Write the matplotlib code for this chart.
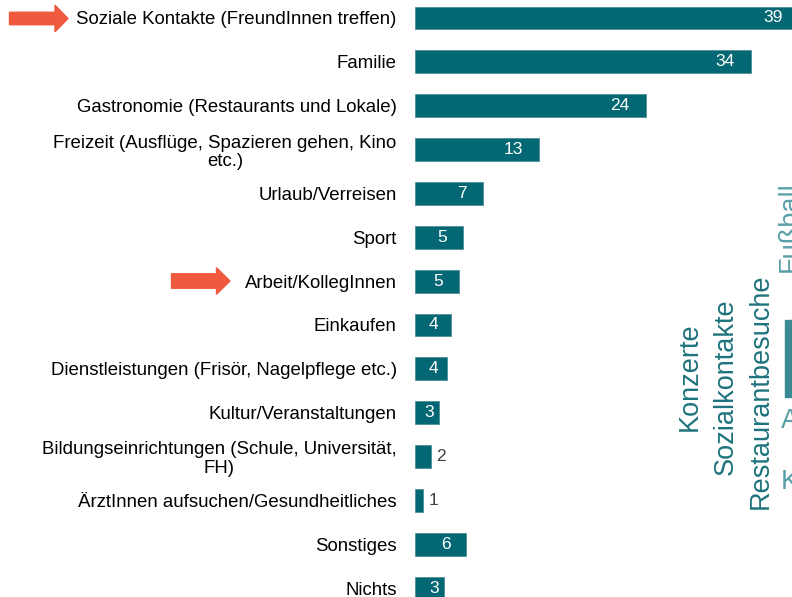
import matplotlib.pyplot as plt
from matplotlib.patches import Polygon

# Kategorien und Werte (Prozent)
categories = [
    'Soziale Kontakte (FreundInnen treffen)',
    'Familie',
    'Gastronomie (Restaurants und Lokale)',
    'Freizeit (Ausflüge, Spazieren gehen, Kino\netc.)',
    'Urlaub/Verreisen',
    'Sport',
    'Arbeit/KollegInnen',
    'Einkaufen',
    'Dienstleistungen (Frisör, Nagelpflege etc.)',
    'Kultur/Veranstaltungen',
    'Bildungseinrichtungen (Schule, Universität,\nFH)',
    'ÄrztInnen aufsuchen/Gesundheitliches',
    'Sonstiges',
    'Nichts',
]
values = [39.4, 34.5, 23.7, 12.7, 7.0, 5.0, 4.5, 3.7, 3.3, 2.5, 1.7, 0.9, 5.3, 3.0]
value_labels = [39, 34, 24, 13, 7, 5, 5, 4, 4, 3, 2, 1, 6, 3]

# rechts angeschnittene Beschriftungen der Nachbargrafik
side_labels = ['Konzerte', 'Sozialkontakte', 'Restaurantbesuche', 'Fußball']

bar_color = '#036873'
arrow_color = '#EF5A3F'
side_dark = '#1E737C'
side_light = '#5A9FA7'

W, H = 792, 597
fig = plt.figure(figsize=(W / 100, H / 100), dpi=100)
plt.rcParams['font.family'] = ['Liberation Sans', 'DejaVu Sans']

x0_px = 414.7
px_per_unit = 9.75
ax = fig.add_axes([x0_px / W, 0, 1 - x0_px / W, 1])

pos = list(range(len(categories)))
step = 43.85
ax.barh(pos, values, height=0.52, color=bar_color, edgecolor='#4f8f96', linewidth=0.6)
ax.set_xlim(0, (W - x0_px) / px_per_unit)
ax.set_ylim((H - 18) / step, -18 / step)

ax.set_yticks(pos)
ax.set_yticklabels(categories, fontsize=13.4, color='black', linespacing=1.1)
for lab in ax.get_yticklabels():
    lab.set_multialignment('center')
ax.tick_params(axis='y', length=0, pad=13)
ax.set_xticks([])
for s in ax.spines.values():
    s.set_visible(False)

# Wertbeschriftungen
for i, (v, lab) in enumerate(zip(values, value_labels)):
    end = v * px_per_unit
    if v < 2:
        ax.annotate(str(lab), xy=(v, i), xytext=(5 * 0.72, 0), textcoords='offset points',
                    ha='left', va='center', fontsize=12.5, color='#404040')
    else:
        right = min(end - 5, max(end - 16, 24))
        ax.annotate(str(lab), xy=(0, i), xytext=(right * 0.72, 0), textcoords='offset points',
                    ha='right', va='center', fontsize=12.5, color='white', annotation_clip=False)


def arrow(xa, xh, xb, yc, t, hh):
    yc = H - yc
    pts = [(xa, yc - t / 2), (xh, yc - t / 2), (xh, yc - hh / 2), (xb, yc),
           (xh, yc + hh / 2), (xh, yc + t / 2), (xa, yc + t / 2)]
    fig.patches.append(Polygon(pts, closed=True, transform=None, color=arrow_color))


arrow(9.5, 55, 68, 18.5, 12.5, 26.5)
arrow(171.5, 216.5, 230, 281, 14.5, 26.5)

# angeschnittene Nachbargrafik rechts
side_x = [697, 733, 768, 796.5]
side_y = [376.5, 387, 391.5, 226.5]
side_c = [side_dark, side_dark, side_dark, side_light]
for txt, x, y, c in zip(side_labels, side_x, side_y, side_c):
    fig.text(x, H - y, txt, transform=None, rotation=90, rotation_mode='anchor',
             ha='center', va='baseline', fontsize=19.5, color=c)
fig.patches.append(plt.Rectangle((784.7, H - 397), 20, 77, transform=None, color='#3A8A93'))
fig.text(781, H - 421, 'A', transform=None, ha='left', va='center', fontsize=19.5, color=side_light)
fig.text(781, H - 482, 'K', transform=None, ha='left', va='center', fontsize=19.5, color=side_light)

fig.savefig('out.png', dpi=100)
